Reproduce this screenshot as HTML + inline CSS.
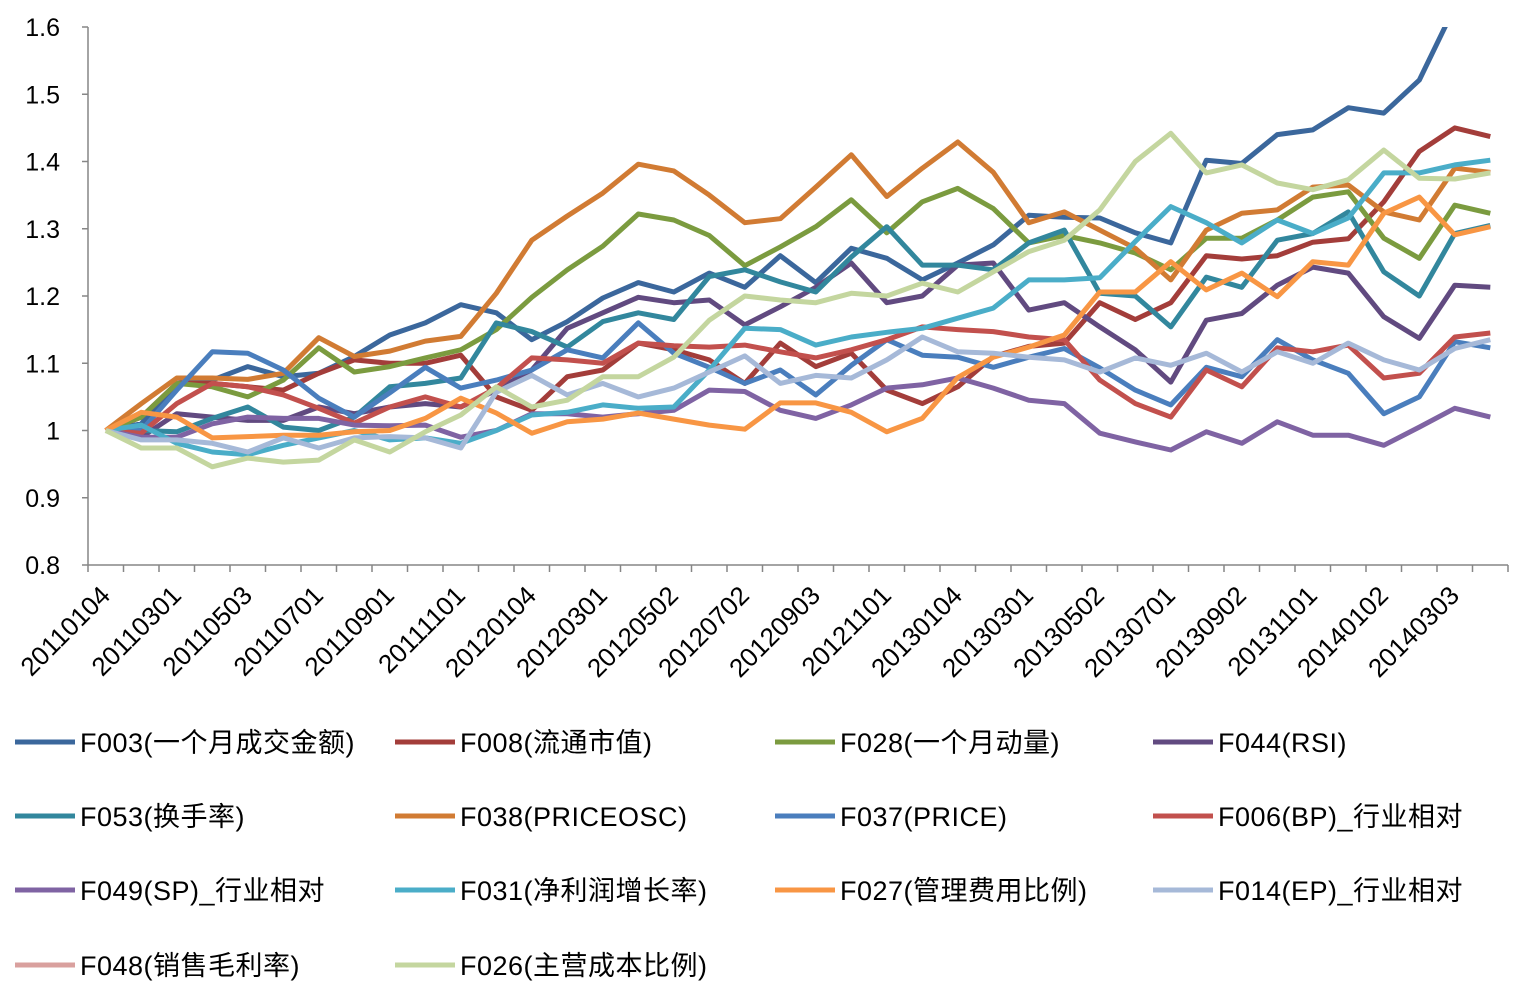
<!DOCTYPE html>
<html><head><meta charset="utf-8">
<style>
html,body{margin:0;padding:0;background:#fff;}
svg{display:block;font-family:"Liberation Sans","Noto Sans CJK SC",sans-serif;}
</style></head>
<body>
<svg id="chart" width="1521" height="996" viewBox="0 0 1521 996">
<defs><clipPath id="plotclip"><rect x="88" y="27" width="1425" height="540"/></clipPath></defs>
<g id="axes"></g>
<g id="lines" clip-path="url(#plotclip)"></g>
<g id="legend"></g>
</svg>
<script>
const categories = ["20110104","20110201","20110301","20110401","20110503","20110601","20110701","20110801","20110901","20111010","20111101","20111201","20120104","20120201","20120301","20120401","20120502","20120601","20120702","20120801","20120903","20121008","20121101","20121203","20130104","20130201","20130301","20130401","20130502","20130603","20130701","20130801","20130902","20131008","20131101","20131202","20140102","20140210","20140303","20140401"];
const yTicks = [0.8,0.9,1,1.1,1.2,1.3,1.4,1.5,1.6];
const yTickLabels = ["0.8","0.9","1","1.1","1.2","1.3","1.4","1.5","1.6"];
const seriesNames = ["F003(一个月成交金额)","F008(流通市值)","F028(一个月动量)","F044(RSI)","F053(换手率)","F038(PRICEOSC)","F037(PRICE)","F006(BP)_行业相对","F049(SP)_行业相对","F031(净利润增长率)","F027(管理费用比例)","F014(EP)_行业相对","F048(销售毛利率)","F026(主营成本比例)"];
const seriesColors = ["#3b679c","#a33d3a","#7b9b3f","#614a80","#32879d","#d17b33","#4a7ebd","#c2504d","#7f63a3","#4aadc8","#f89644","#a6b9d8","#d9a09e","#c4d69f"];
const sF003 = [1,1.01,1.07,1.075,1.095,1.08,1.085,1.11,1.142,1.16,1.187,1.175,1.135,1.162,1.197,1.22,1.206,1.234,1.213,1.26,1.22,1.271,1.256,1.224,1.249,1.276,1.32,1.317,1.316,1.294,1.279,1.402,1.397,1.44,1.447,1.48,1.472,1.521,1.63,1.7];
const sF008 = [1,1.02,1.07,1.07,1.065,1.06,1.085,1.105,1.1,1.1,1.112,1.05,1.03,1.08,1.09,1.13,1.12,1.105,1.07,1.13,1.095,1.115,1.06,1.04,1.065,1.11,1.125,1.13,1.19,1.165,1.19,1.26,1.255,1.26,1.28,1.285,1.34,1.415,1.45,1.437];
const sF028 = [1,1.02,1.07,1.065,1.05,1.075,1.123,1.087,1.095,1.108,1.12,1.15,1.198,1.239,1.274,1.322,1.313,1.29,1.245,1.273,1.303,1.343,1.294,1.34,1.36,1.33,1.279,1.29,1.279,1.264,1.239,1.286,1.286,1.313,1.347,1.355,1.286,1.256,1.335,1.323];
const sF044 = [1,0.99,1.025,1.02,1.015,1.015,1.035,1.025,1.035,1.04,1.035,1.06,1.09,1.152,1.175,1.198,1.19,1.194,1.157,1.184,1.213,1.249,1.19,1.2,1.246,1.249,1.179,1.19,1.154,1.12,1.072,1.164,1.174,1.216,1.243,1.234,1.169,1.137,1.216,1.213];
const sF053 = [1,1.0,0.998,1.018,1.035,1.005,1.0,1.02,1.065,1.07,1.078,1.16,1.147,1.124,1.162,1.175,1.165,1.229,1.239,1.221,1.206,1.258,1.303,1.246,1.246,1.239,1.279,1.298,1.204,1.2,1.154,1.228,1.213,1.283,1.293,1.325,1.236,1.2,1.293,1.305];
const sF038 = [1,1.04,1.078,1.078,1.076,1.085,1.138,1.11,1.118,1.133,1.14,1.204,1.283,1.319,1.353,1.396,1.386,1.35,1.309,1.315,1.362,1.41,1.348,1.39,1.429,1.384,1.309,1.325,1.298,1.271,1.224,1.298,1.323,1.328,1.362,1.365,1.325,1.313,1.39,1.384];
const sF037 = [1,1.0,1.06,1.117,1.115,1.09,1.048,1.02,1.056,1.094,1.063,1.075,1.09,1.12,1.108,1.16,1.115,1.094,1.07,1.09,1.053,1.097,1.135,1.112,1.109,1.094,1.109,1.122,1.093,1.06,1.038,1.094,1.08,1.135,1.105,1.085,1.025,1.05,1.132,1.123];
const sF006 = [1,0.996,1.04,1.07,1.065,1.053,1.033,1.011,1.035,1.05,1.035,1.063,1.108,1.105,1.1,1.13,1.126,1.124,1.127,1.117,1.108,1.12,1.135,1.154,1.15,1.147,1.139,1.135,1.075,1.04,1.02,1.09,1.065,1.123,1.117,1.127,1.078,1.085,1.139,1.145];
const sF049 = [1,0.99,0.99,1.01,1.02,1.018,1.018,1.008,1.007,1.008,0.99,1.0,1.025,1.025,1.02,1.025,1.03,1.06,1.058,1.03,1.018,1.038,1.063,1.068,1.078,1.063,1.045,1.04,0.996,0.983,0.971,0.998,0.981,1.013,0.993,0.993,0.978,1.005,1.033,1.02];
const sF031 = [1,1.008,0.981,0.968,0.964,0.978,0.989,1.0,0.986,0.989,0.981,1.0,1.023,1.027,1.038,1.033,1.035,1.09,1.152,1.15,1.127,1.139,1.146,1.152,1.167,1.182,1.224,1.224,1.227,1.281,1.333,1.309,1.279,1.313,1.293,1.316,1.383,1.383,1.395,1.402];
const sF027 = [1,1.027,1.02,0.989,0.991,0.993,0.993,0.998,1.0,1.018,1.048,1.026,0.996,1.013,1.017,1.026,1.017,1.008,1.002,1.041,1.041,1.027,0.998,1.018,1.079,1.109,1.124,1.142,1.206,1.206,1.251,1.209,1.234,1.199,1.251,1.246,1.323,1.347,1.291,1.303];
const sF014 = [1,0.986,0.986,0.981,0.968,0.989,0.974,0.989,0.991,0.989,0.974,1.057,1.082,1.053,1.07,1.05,1.063,1.087,1.111,1.07,1.082,1.078,1.105,1.139,1.117,1.115,1.109,1.105,1.087,1.108,1.097,1.115,1.087,1.117,1.1,1.13,1.105,1.09,1.122,1.135];
const sF048 = [];
const sF026 = [1,0.974,0.974,0.946,0.959,0.953,0.956,0.986,0.968,0.998,1.023,1.065,1.035,1.045,1.08,1.08,1.109,1.164,1.2,1.194,1.19,1.204,1.2,1.219,1.206,1.236,1.266,1.283,1.328,1.4,1.442,1.383,1.395,1.368,1.358,1.373,1.417,1.375,1.374,1.383];
const seriesData = [sF003,sF008,sF028,sF044,sF053,sF038,sF037,sF006,sF049,sF031,sF027,sF014,sF048,sF026];

const NS="http://www.w3.org/2000/svg";
const X0=88, X1=1508, Y0=565, Y1=27, YMIN=0.8, YMAX=1.6;
const band=(X1-X0)/categories.length;
function xPos(i){return X0+band*(i+0.5);}
function yPos(v){return Y0-(v-YMIN)/(YMAX-YMIN)*(Y0-Y1);}
function mk(tag,attrs,parent){const e=document.createElementNS(NS,tag);for(const k in attrs)e.setAttribute(k,attrs[k]);parent.appendChild(e);return e;}

const axes=document.getElementById('axes');
const yAxis=mk('line',{x1:X0,y1:Y1,x2:X0,y2:Y0,stroke:'#868686','stroke-width':1.5},axes);


const xAxis=mk('line',{x1:X0,y1:Y0,x2:X1,y2:Y0,stroke:'#868686','stroke-width':1.5},axes);


yTicks.forEach((v,k)=>{
  const y=yPos(v);
  mk('line',{x1:X0-6,y1:y,x2:X0,y2:y,stroke:'#868686','stroke-width':1.5},axes);
  const t=mk('text',{x:60,y:y+9,'text-anchor':'end','font-size':25,fill:'#000'},axes);
  t.textContent=yTickLabels[k];
  
  
});
for(let k=0;k<=categories.length;k++){
  const x=X0+band*k;
  mk('line',{x1:x,y1:Y0,x2:x,y2:Y0+7,stroke:'#868686','stroke-width':1.5},axes);
}
categories.forEach((c,i)=>{
  if(i%2!==0)return;
  const x=xPos(i)+6, y=Y0+32;
  const t=mk('text',{x:x,y:y,'text-anchor':'end','font-size':26,fill:'#000',transform:`rotate(-45 ${x} ${y})`},axes);
  t.textContent=c;
  
  
});

const lines=document.getElementById('lines');
seriesData.forEach((arr,s)=>{
  if(!arr.length)return;
  const pts=arr.map((v,i)=>xPos(i).toFixed(1)+','+yPos(v).toFixed(1)).join(' ');
  const p=mk('polyline',{points:pts,fill:'none',stroke:seriesColors[s],'stroke-width':5,'stroke-linejoin':'round'},lines);
  
  
});

const legend=document.getElementById('legend');
const colX=[15,395,775,1153], rowY=[742,816,890,965];
seriesNames.forEach((n,s)=>{
  const cx=colX[s%4], cy=rowY[Math.floor(s/4)];
  const g=mk('g',{},legend);
  
  
  mk('line',{x1:cx,y1:cy,x2:cx+60,y2:cy,stroke:seriesColors[s],'stroke-width':5},g);
  const t=mk('text',{x:cx+65,y:cy+10,'font-size':27,fill:'#000','letter-spacing':'0.5'},g);
  t.textContent=n;
});
</script>
</body></html>
